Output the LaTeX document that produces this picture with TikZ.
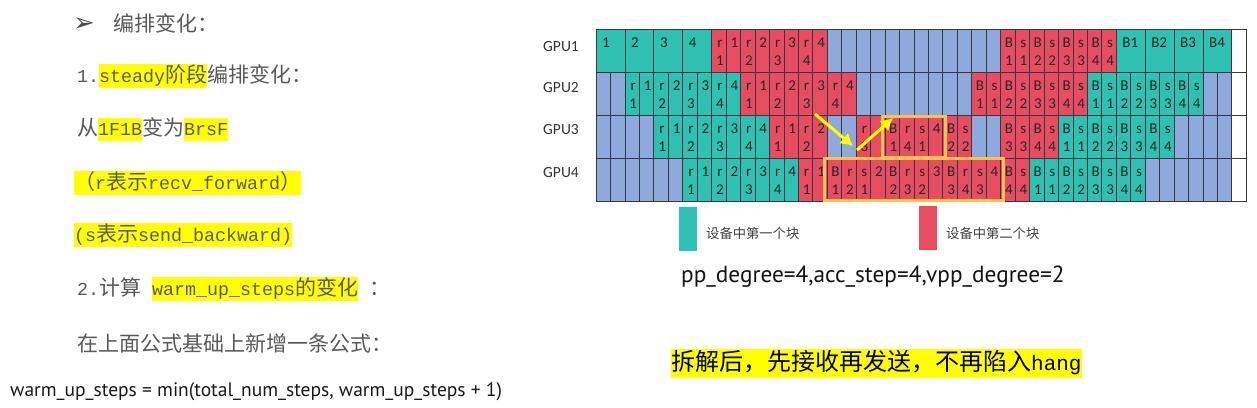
\documentclass[tikz,border=0pt]{standalone}
\usepackage{fontspec}
\usetikzlibrary{arrows.meta,fit}
\newfontfamily\cjkf{Noto Sans CJK SC}
\newfontfamily\latf[Scale=0.873]{Liberation Mono}
\newfontfamily\calf{Carlito}
\newfontfamily\symf{DejaVu Sans}
\newfontfamily\uif{PT Sans}
\definecolor{tl}{RGB}{46,192,176}
\definecolor{rd}{RGB}{231,76,96}
\definecolor{bl}{RGB}{142,169,219}
\definecolor{gl}{RGB}{55,55,65}
\definecolor{tg}{RGB}{89,89,89}
\definecolor{hy}{RGB}{255,255,0}
\definecolor{bx}{RGB}{250,195,80}
\newcommand\ens[1]{{\latf #1}}
\newcommand\hlt[1]{{\setlength\fboxsep{0pt}\colorbox{hy}{\rule[-6pt]{0pt}{23pt}#1}}}
\newcommand\hlb[1]{{\setlength\fboxsep{0pt}\colorbox{hy}{\rule[-8pt]{0pt}{29pt}#1}}}
\def\gdash{-}
\newcommand\gcell[6]{%
 \pgfmathsetmacro\gx{596+#2*14.45}%
 \pgfmathsetmacro\gy{29+(#1-1)*43}%
 \pgfmathsetmacro\gw{#3*14.45}%
 \edef\gtop{#5}\edef\gbot{#6}%
 \node[gcellst, fill=#4, minimum width=\gw pt] (g#1-#2) at (\gx,\gy) {};%
 \ifx\gtop\gdash\else
   \ifnum#3=1
     \node[lbl] (g#1-#2t) at ([xshift=8.3pt,yshift=-18.5pt]g#1-#2.north west) {\gtop};%
   \else
     \node[lbl, anchor=base west] (g#1-#2t) at ([xshift=6pt,yshift=-18.5pt]g#1-#2.north west) {\gtop};%
   \fi
 \fi
 \ifx\gbot\gdash\else
   \node[lbl] (g#1-#2b) at ([xshift=8.3pt,yshift=-36pt]g#1-#2.north west) {\gbot};%
 \fi
}
\tikzset{
 gcellst/.style={draw=gl, line width=0.7pt, minimum height=43pt, inner sep=0pt, outer sep=0pt, anchor=north west},
 lbl/.style={font=\calf\fontsize{15}{15}\selectfont, text=black!85, anchor=base, inner sep=0pt},
 gpu/.style={font=\calf\fontsize{15.5}{15.5}\selectfont, text=black!80, inner sep=0pt},
 lt/.style={anchor=base west, inner sep=0pt, text=tg, font=\cjkf\fontsize{21}{24}\selectfont},
 yarrow/.style={draw=hy, line width=3pt, -{Latex[length=12pt,width=14pt]}},
 hlbox/.style={draw=bx, line width=3pt, inner sep=0pt},
 leg/.style={inner sep=0pt, minimum width=18pt, minimum height=44pt},
 legt/.style={anchor=west, inner sep=0pt, text=black!75, font=\cjkf\fontsize{13.3}{13.3}\selectfont},
}
\begin{document}
\begin{tikzpicture}[x=1pt,y=-1pt]
\useasboundingbox (0,0) rectangle (1257,407);
\fill[white] (0,0) rectangle (1257,407);
% ---------- left text ----------
\node[anchor=center, inner sep=0pt, text=black!70, font=\symf\fontsize{26}{26}\selectfont] (bul) at (84,25) {➢};
\node[lt] (l1) at (113,31.5) {编排变化：};
\node[lt] (l2) at (77,82) {\ens{1.}\hlt{\ens{steady}阶段}编排变化：};
\node[lt] (l3) at (77,135) {从\hlt{\ens{1F1B}}变为\hlt{\ens{BrsF}}};
\node[lt] (l4) at (74,189) {\hlt{（\ens{r}表示\ens{recv\_forward}）}};
\node[lt] (l5) at (74,241) {\hlt{\ens{(s}表示\ens{send\_backward)}}};
\node[lt] (l6) at (77,295) {\ens{2.}计算\ens{\ }\hlt{\ens{warm\_up\_steps}的变化}\ens{\ }：};
\node[lt] (l7) at (77,351.5) {在上面公式基础上新增一条公式：};
\node[anchor=base west, inner sep=0pt, text=black!90, font=\uif\fontsize{19.5}{19.5}\selectfont] (fm) at (10,396) {warm\_up\_steps = min(total\_num\_steps, warm\_up\_steps + 1)};
% ---------- GPU labels ----------
\node[gpu] (gpu1) at (561,47) {GPU1};
\node[gpu] (gpu2) at (561,88) {GPU2};
\node[gpu] (gpu3) at (561,130) {GPU3};
\node[gpu] (gpu4) at (561,173) {GPU4};
% ---------- row 1 ----------
\foreach \c/\tp in {0/1,2/2,4/3,6/4}{\gcell{1}{\c}{2}{tl}{\tp}{-}}
\foreach \c/\tp/\bt in {8/r/1,9/1/-,10/r/2,11/2/-,12/r/3,13/3/-,14/r/4,15/4/-}{\gcell{1}{\c}{1}{rd}{\tp}{\bt}}
\foreach \c in {16,...,27}{\gcell{1}{\c}{1}{bl}{-}{-}}
\foreach \c/\tp/\bt in {28/B/1,29/s/1,30/B/2,31/s/2,32/B/3,33/s/3,34/B/4,35/s/4}{\gcell{1}{\c}{1}{rd}{\tp}{\bt}}
\foreach \c/\tp in {36/B1,38/B2,40/B3,42/B4}{\gcell{1}{\c}{2}{tl}{\tp}{-}}
\gcell{1}{44}{1}{white}{-}{-}
% ---------- row 2 ----------
\foreach \c in {0,1}{\gcell{2}{\c}{1}{bl}{-}{-}}
\foreach \c/\tp/\bt in {2/r/1,3/1/-,4/r/2,5/2/-,6/r/3,7/3/-,8/r/4,9/4/-}{\gcell{2}{\c}{1}{tl}{\tp}{\bt}}
\foreach \c/\tp/\bt in {10/r/1,11/1/-,12/r/2,13/2/-,14/r/3,15/3/-,16/r/4,17/4/-}{\gcell{2}{\c}{1}{rd}{\tp}{\bt}}
\foreach \c in {18,...,25}{\gcell{2}{\c}{1}{bl}{-}{-}}
\foreach \c/\tp/\bt in {26/B/1,27/s/1,28/B/2,29/s/2,30/B/3,31/s/3,32/B/4,33/s/4}{\gcell{2}{\c}{1}{rd}{\tp}{\bt}}
\foreach \c/\tp/\bt in {34/B/1,35/s/1,36/B/2,37/s/2,38/B/3,39/s/3,40/B/4,41/s/4}{\gcell{2}{\c}{1}{tl}{\tp}{\bt}}
\foreach \c in {42,43}{\gcell{2}{\c}{1}{bl}{-}{-}}
\gcell{2}{44}{1}{white}{-}{-}
% ---------- row 3 ----------
\foreach \c in {0,...,3}{\gcell{3}{\c}{1}{bl}{-}{-}}
\foreach \c/\tp/\bt in {4/r/1,5/1/-,6/r/2,7/2/-,8/r/3,9/3/-,10/r/4,11/4/-}{\gcell{3}{\c}{1}{tl}{\tp}{\bt}}
\foreach \c/\tp/\bt in {12/r/1,13/1/-,14/r/2,15/2/-}{\gcell{3}{\c}{1}{rd}{\tp}{\bt}}
\foreach \c in {16,17}{\gcell{3}{\c}{1}{bl}{-}{-}}
\foreach \c/\tp/\bt in {18/r/3,19/-/-,20/B/1,21/r/4,22/s/1,23/4/-,24/B/2,25/s/2}{\gcell{3}{\c}{1}{rd}{\tp}{\bt}}
\foreach \c in {26,27}{\gcell{3}{\c}{1}{bl}{-}{-}}
\foreach \c/\tp/\bt in {28/B/3,29/s/3,30/B/4,31/s/4}{\gcell{3}{\c}{1}{rd}{\tp}{\bt}}
\foreach \c/\tp/\bt in {32/B/1,33/s/1,34/B/2,35/s/2,36/B/3,37/s/3,38/B/4,39/s/4}{\gcell{3}{\c}{1}{tl}{\tp}{\bt}}
\foreach \c in {40,...,43}{\gcell{3}{\c}{1}{bl}{-}{-}}
\gcell{3}{44}{1}{white}{-}{-}
% ---------- row 4 ----------
\foreach \c in {0,...,5}{\gcell{4}{\c}{1}{bl}{-}{-}}
\foreach \c/\tp/\bt in {6/r/1,7/1/-,8/r/2,9/2/-,10/r/3,11/3/-,12/r/4,13/4/-}{\gcell{4}{\c}{1}{tl}{\tp}{\bt}}
\foreach \c/\tp/\bt in {14/r/1,15/1/-,16/B/1,17/r/2,18/s/1,19/2/-,20/B/2,21/r/3,22/s/2,23/3/-,24/B/3,25/r/4,26/s/3,27/4/-,28/B/4,29/s/4}{\gcell{4}{\c}{1}{rd}{\tp}{\bt}}
\foreach \c/\tp/\bt in {30/B/1,31/s/1,32/B/2,33/s/2,34/B/3,35/s/3,36/B/4,37/s/4}{\gcell{4}{\c}{1}{tl}{\tp}{\bt}}
\foreach \c in {38,...,43}{\gcell{4}{\c}{1}{bl}{-}{-}}
\gcell{4}{44}{1}{white}{-}{-}
% ---------- highlight boxes ----------
\node[hlbox, fit=(g3-20)(g3-23), inner xsep=2.5pt, inner ysep=-1pt] (box3) {};
\node[hlbox, fit=(g4-16)(g4-27), inner xsep=2.5pt, inner ysep=-0.5pt] (box4) {};
% ---------- arrows ----------
\coordinate (a1s) at (815,114);
\coordinate (a1e) at (853,146);
\coordinate (a2s) at (857,150);
\coordinate (a2e) at (893,118);
\draw[yarrow] (a1s) -- (a1e);
\draw[yarrow] (a2s) -- (a2e);
% ---------- legend ----------
\node[leg, fill=tl] (legA) at (688,229) {};
\node[legt] (legAt) at (706,233) {设备中第一个块};
\node[leg, fill=rd] (legB) at (928,228) {};
\node[legt] (legBt) at (946,233) {设备中第二个块};
\node[anchor=base west, inner sep=0pt, text=black!92, font=\uif\fontsize{23.3}{23.3}\selectfont] (pp) at (681,282) {pp\_degree=4,acc\_step=4,vpp\_degree=2};
\node[anchor=base west, inner sep=0pt, text=black, font=\cjkf\fontsize{24}{29}\selectfont] (conc) at (671,370) {\hlb{拆解后，先接收再发送，不再陷入\ens{hang}}};
\end{tikzpicture}
\end{document}
